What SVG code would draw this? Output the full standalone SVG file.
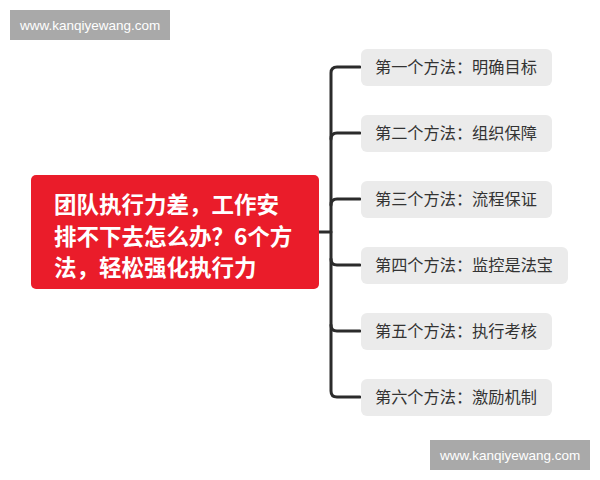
<svg xmlns="http://www.w3.org/2000/svg" width="600" height="480" viewBox="0 0 600 480">
<style>
.wm{fill:#a9a9a9}
.wmt{font-family:"Liberation Sans",Arial,sans-serif;font-size:13.5px;fill:#ffffff}
.leaf{fill:#ebebeb}
.lt{font-family:"Noto Sans CJK SC","Liberation Sans",sans-serif;font-size:16.2px;fill:#333333}
.rt{font-family:"Noto Sans CJK SC","Liberation Sans",sans-serif;font-size:22.5px;font-weight:bold;fill:#ffffff}
.ln{fill:none;stroke:#2b2b2b;stroke-width:3;stroke-linecap:round;stroke-linejoin:round}
</style>
<rect width="600" height="480" fill="#ffffff"/>
<g id="connectors">
<path class="ln" d="M319 232H331"/>
<path class="ln" d="M360 67H337Q331 67 331 73V391Q331 397 337 397H360"/>
<path class="ln" d="M331 139Q331 133 337 133H360"/>
<path class="ln" d="M331 205Q331 199 337 199H360"/>
<path class="ln" d="M331 259Q331 265 337 265H360"/>
<path class="ln" d="M331 325Q331 331 337 331H360"/>
</g>
<g id="root">
<rect x="31" y="175" width="288" height="114" rx="5" fill="#ea1c2a"/>
<text class="rt" x="54" y="213">团队执行力差，工作安</text>
<text class="rt" x="54" y="245">排不下去怎么办？6个方</text>
<text class="rt" x="54" y="276">法，轻松强化执行力</text>
</g>
<g id="m1"><rect class="leaf" x="361" y="49" width="191" height="37" rx="6"/><text class="lt" x="375" y="73">第一个方法：明确目标</text></g>
<g id="m2"><rect class="leaf" x="361" y="115" width="191" height="37" rx="6"/><text class="lt" x="375" y="139">第二个方法：组织保障</text></g>
<g id="m3"><rect class="leaf" x="361" y="181" width="191" height="37" rx="6"/><text class="lt" x="375" y="205">第三个方法：流程保证</text></g>
<g id="m4"><rect class="leaf" x="361" y="247" width="207" height="37" rx="6"/><text class="lt" x="375" y="271">第四个方法：监控是法宝</text></g>
<g id="m5"><rect class="leaf" x="361" y="313" width="191" height="37" rx="6"/><text class="lt" x="375" y="337">第五个方法：执行考核</text></g>
<g id="m6"><rect class="leaf" x="361" y="379" width="191" height="37" rx="6"/><text class="lt" x="375" y="403">第六个方法：激励机制</text></g>
<g id="watermark1"><rect class="wm" x="10" y="10" width="160" height="30"/><text class="wmt" x="20" y="29.5">www.kanqiyewang.com</text></g>
<g id="watermark2"><rect class="wm" x="430" y="440" width="160" height="30"/><text class="wmt" x="440" y="459.5">www.kanqiyewang.com</text></g>
</svg>
